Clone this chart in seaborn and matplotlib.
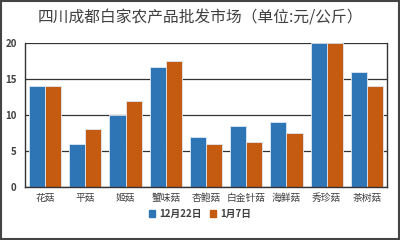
import pandas as pd
import matplotlib.pyplot as plt
import seaborn as sns
from matplotlib.patches import Rectangle, Patch

# data
categories = ['花菇', '平菇', '姬菇', '蟹味菇', '杏鲍菇', '白金针菇', '海鲜菇', '秀珍菇', '茶树菇']
dec22 = [14, 6, 10, 16.6, 7, 8.5, 9, 20, 16]
jan7 = [14, 8, 12, 17.5, 6, 6.2, 7.5, 20, 14]
series_names = ['12月22日', '1月7日']

df = pd.DataFrame({
    'cat': categories * 2,
    'price': dec22 + jan7,
    'date': [series_names[0]] * len(categories) + [series_names[1]] * len(categories),
})

sns.set_style('white')
plt.rcParams['font.family'] = ['Noto Sans CJK SC', 'DejaVu Sans']

colors = ['#2E75B6', '#C55A11']
fig = plt.figure(figsize=(4, 2.4), dpi=100)
ax = fig.add_axes([0.0625, 0.221, 0.905, 0.6])
sns.barplot(data=df, x='cat', y='price', hue='date', palette=colors, saturation=1,
            width=0.8, edgecolor='#dde8f5', linewidth=0.6, ax=ax, legend=False)

ax.set_ylim(0, 20)
ax.set_yticks([0, 5, 10, 15, 20])
ax.yaxis.grid(True, color='#333333', linewidth=0.9)
ax.set_axisbelow(True)
ax.set_xlabel('')
ax.set_ylabel('')
for s in ['left', 'bottom', 'right']:
    ax.spines[s].set_visible(True)
    ax.spines[s].set_color('#333333')
    ax.spines[s].set_linewidth(1.0)
ax.spines['top'].set_visible(False)
ax.tick_params(axis='x', labelsize=7, colors='#404040', length=0, pad=4)
ax.tick_params(axis='y', labelsize=7, colors='#404040', length=0, pad=6)
for t in ax.get_yticklabels():
    t.set_fontweight('bold')

fig.text(0.5, 0.925, '四川成都白家农产品批发市场（单位:元/公斤）',
         ha='center', va='center', fontsize=11.3, color='#404040')

handles = [Patch(color=c) for c in colors]
leg = fig.legend(handles, series_names, loc='center', bbox_to_anchor=(0.5, 0.108),
                 ncol=2, frameon=False, handlelength=0.7, handleheight=0.7,
                 handletextpad=0.4, columnspacing=0.8, fontsize=7)
for t in leg.get_texts():
    t.set_color('#404040')
    t.set_fontweight('bold')

fig.patches.append(Rectangle((0.003, 0.005), 0.994, 0.99, transform=fig.transFigure,
                             fill=False, edgecolor='#444444', linewidth=1.5))

fig.savefig('out.png', dpi=100)
